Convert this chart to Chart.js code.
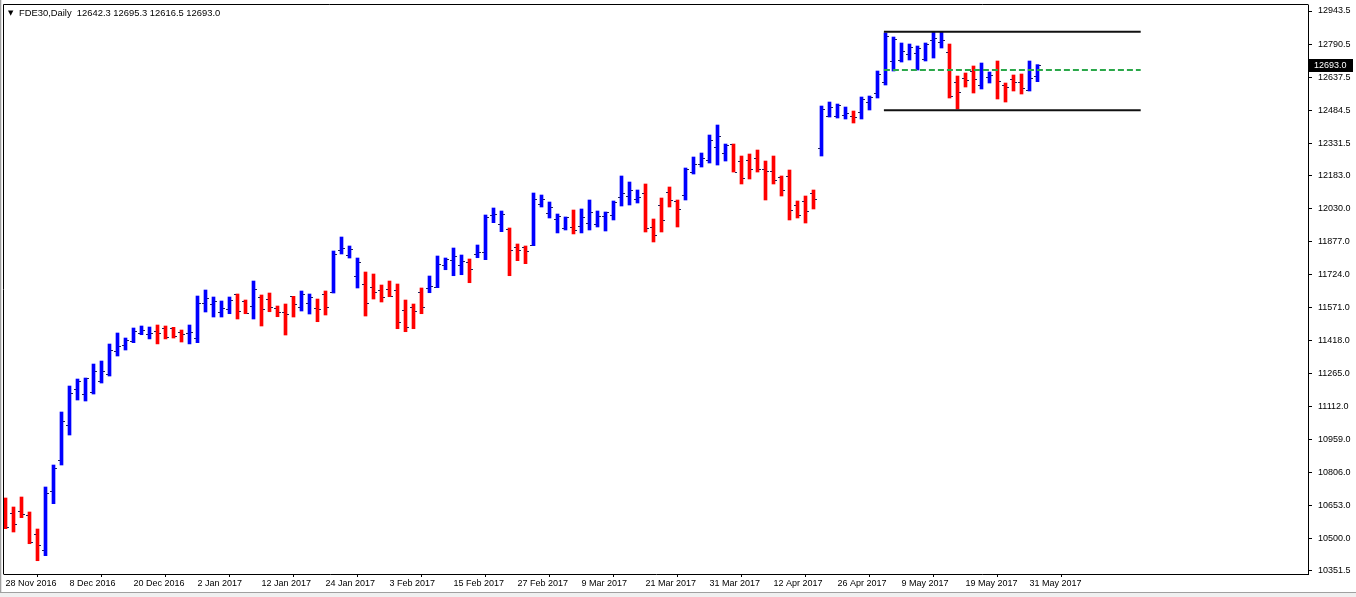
<!DOCTYPE html>
<html>
<head>
<meta charset="utf-8">
<script src="https://cdn.jsdelivr.net/npm/chart.js@4.4.0/dist/chart.umd.min.js"></script>
<style>
html,body{margin:0;padding:0;background:#fff;}
#wrap{position:relative;width:1356px;height:597px;overflow:hidden;}
canvas{display:block;}
#hdr{position:absolute;left:8px;top:7px;font-family:"Liberation Sans",Arial,sans-serif;font-size:9.4px;line-height:12px;white-space:pre;color:#000;}
#hdr .tri{display:inline-block;width:11px;font-family:"DejaVu Sans",sans-serif;font-size:7px;vertical-align:top;line-height:12px;}
</style>
</head>
<body>
<div id="wrap">
<canvas id="c" width="1356" height="597"></canvas>
<div id="hdr"></div>
</div>
<script>
// ---- data (daily OHLC, FDE30) ----
const symbol = 'FDE30,Daily';
const dateLabels = ['28 Nov 2016','8 Dec 2016','20 Dec 2016','2 Jan 2017','12 Jan 2017','24 Jan 2017','3 Feb 2017','15 Feb 2017','27 Feb 2017','9 Mar 2017','21 Mar 2017','31 Mar 2017','12 Apr 2017','26 Apr 2017','9 May 2017','19 May 2017','31 May 2017'];
const labelEvery = 8;

const opens = [10680.1,10619.9,10629.2,10610.7,10522.7,10447.3,10720.4,10863.8,11025.8,11192.4,
11170.7,11178.6,11232.3,11261.9,11369.7,11396.1,11416.0,11451.7,11448.4,11462.3,
11476.2,11474.8,11457.7,11451.7,11428.5,11590.5,11585.9,11548.9,11562.8,11632.2,
11602.6,11578.0,11619.7,11609.0,11567.4,11548.9,11622.9,11572.0,11590.5,11567.4,
11632.2,11644.2,11835.9,11812.7,11715.5,11678.5,11664.6,11650.7,11655.3,11650.7,
11559.5,11572.0,11641.5,11662.8,11664.6,11766.5,11789.6,11766.5,11781.7,11818.8,
11826.7,11997.0,11956.2,11934.5,11849.8,11849.8,11861.8,12048.8,12008.5,11980.8,
11937.7,11943.8,11947.0,11960.8,11956.2,11993.3,11998.0,12081.2,12085.8,12073.3,
12099.7,11943.8,12044.2,12104.3,12062.7,12090.5,12196.9,12233.9,12252.4,12312.6,
12284.8,12326.1,12247.7,12252.4,12261.7,12210.8,12201.5,12173.7,12179.8,12044.2,
12062.7,12099.7,12308.1,12457.5,12457.5,12462.1,12457.5,12476.0,12522.2,12563.9,
12613.5,12710.7,12715.3,12744.5,12747.7,12719.9,12809.3,12800.0,12753.7,12614.9,
12633.4,12665.8,12601.0,12638.0,12670.4,12601.0,12628.8,12614.9,12577.8,12642.3];
const highs = [10689.4,10647.7,10694.0,10624.6,10545.9,10740.3,10842.1,11087.4,11207.7,11240.1,
11244.7,11309.5,11323.4,11402.1,11453.1,11429.9,11476.2,11485.5,11480.8,11490.1,
11485.5,11479.4,11466.9,11490.1,11624.3,11652.1,11619.7,11601.2,11619.7,11633.6,
11605.8,11693.7,11629.0,11638.2,11578.0,11587.3,11622.9,11647.5,11633.6,11610.4,
11647.5,11832.6,11897.4,11855.8,11800.2,11735.4,11726.2,11675.2,11693.7,11679.9,
11605.8,11587.3,11661.4,11716.9,11809.5,11800.2,11846.5,11814.1,11795.6,11860.4,
11999.3,12031.7,12017.8,11939.1,11865.1,11855.8,12101.1,12091.8,12059.4,12003.9,
11990.1,12022.4,12027.1,12068.7,12017.8,12013.2,12064.1,12179.8,12152.0,12115.0,
12142.8,11980.8,12077.9,12128.9,12068.7,12216.8,12267.7,12286.2,12369.5,12415.8,
12327.8,12327.8,12272.3,12281.6,12300.1,12249.1,12272.3,12179.8,12207.5,12064.1,
12087.2,12115.0,12503.7,12522.2,12512.9,12499.1,12480.6,12545.4,12550.0,12665.8,
12841.7,12823.1,12795.4,12790.7,12781.5,12795.4,12846.3,12846.3,12790.7,12642.6,
12656.5,12689.0,12702.8,12661.1,12712.1,12610.2,12647.3,12651.9,12712.1,12695.3];
const lows = [10547.3,10532.0,10598.2,10477.8,10399.1,10422.3,10663.0,10842.1,10980.9,11142.9,
11138.3,11170.7,11221.6,11254.0,11346.6,11374.4,11408.2,11445.2,11425.7,11402.6,
11425.7,11429.9,11411.4,11402.6,11408.2,11550.3,11527.1,11527.1,11542.4,11517.9,
11542.4,11517.9,11485.5,11551.6,11528.5,11443.8,11527.1,11554.9,11541.0,11505.4,
11536.4,11638.2,11818.8,11800.2,11661.4,11531.7,11610.4,11596.6,11621.1,11473.0,
11459.1,11473.0,11542.4,11639.6,11662.8,11746.0,11718.3,11722.9,11685.9,11801.6,
11792.4,11963.7,11922.0,11718.3,11787.8,11773.9,11857.2,12036.3,11985.4,11916.2,
11929.9,11911.6,11916.2,11929.9,11943.8,11925.2,11976.2,12040.9,12045.6,12054.8,
11920.6,11874.4,11920.6,12036.3,11943.8,12068.7,12189.0,12221.4,12239.9,12230.6,
12249.1,12198.2,12142.8,12165.9,12198.2,12068.7,12142.8,12087.2,11976.2,11985.4,
11962.2,12027.1,12272.3,12452.8,12448.2,12443.6,12425.1,12443.6,12485.3,12540.8,
12601.0,12665.8,12707.4,12716.7,12670.4,12712.1,12725.9,12772.2,12540.8,12489.9,
12591.7,12563.9,12582.5,12610.2,12536.2,12522.2,12573.2,12559.3,12573.2,12616.5];
const closes = [10555.1,10569.0,10615.3,10485.7,10471.8,10711.1,10826.8,11044.3,11173.9,11229.5,
11243.4,11275.3,11275.3,11373.0,11392.9,11419.3,11460.9,11466.9,11453.1,11453.1,
11434.5,11440.6,11448.4,11457.7,11590.5,11613.7,11599.8,11570.2,11604.4,11553.5,
11545.6,11655.3,11562.8,11572.0,11551.6,11539.6,11585.9,11632.2,11618.4,11562.8,
11572.0,11817.4,11845.1,11840.5,11780.3,11590.5,11641.5,11618.4,11622.9,11505.4,
11479.4,11553.5,11572.0,11672.0,11771.1,11794.2,11808.1,11785.0,11747.9,11828.1,
11990.1,12006.2,12002.5,11835.9,11835.9,11831.3,12072.0,12072.0,12036.3,11993.3,
11988.7,11928.5,11988.7,12011.8,11993.3,12011.8,12058.1,12099.7,12113.6,12082.6,
11937.7,11905.6,11974.8,12067.3,12025.7,12210.8,12233.9,12263.1,12346.4,12364.9,
12321.8,12199.7,12169.1,12210.8,12210.8,12201.5,12159.9,12113.6,12021.0,11998.0,
12016.4,12072.0,12489.9,12499.1,12508.3,12471.4,12452.8,12536.2,12545.4,12651.9,
12827.8,12813.9,12758.3,12776.9,12772.2,12790.7,12817.1,12809.3,12550.0,12568.6,
12624.1,12628.8,12670.4,12647.3,12619.5,12591.7,12614.9,12587.1,12633.4,12693.0];

// drawn objects: two horizontal trend lines and a dashed mid line (bar-index anchors)
const levelAnchors = [109.8, 141.9];
const levelHigh = 12847.7;
const levelLow = 12483.9;
const levelMid = 12670.4;

// price-axis tick labels
const priceTicks = [12943.5,12790.5,12637.5,12484.5,12331.5,12183.0,12030.0,11877.0,11724.0,11571.0,11418.0,11265.0,11112.0,10959.0,10806.0,10653.0,10500.0,10351.5];
const priceMin = 10337.6, priceMax = 12971.3;

// ---- style ----
const upColor = '#0000ff', downColor = '#ff0000', tickColor = '#20205a';
const FONT = '"Liberation Sans", Arial, sans-serif';

const last = closes.length - 1;
document.getElementById('hdr').innerHTML =
  '<span class="tri">\u25BC</span>' + symbol + '  ' +
  [opens[last], highs[last], lows[last], closes[last]].map(v => v.toFixed(1)).join(' ');

const barColors = closes.map((c, i) => c >= opens[i] ? upColor : downColor);

const ohlcTicks = {
  id: 'ohlcTicks',
  afterDatasetDraw(chart, args) {
    if (args.index !== 0) return;
    const {ctx, chartArea: a, scales: {x, y}} = chart;
    ctx.save();
    ctx.beginPath(); ctx.rect(a.left, a.top, a.right - a.left, a.bottom - a.top); ctx.clip();
    for (let i = 0; i < opens.length; i++) {
      const px = Math.round(x.getPixelForValue(i) - 1.5);
      const yo = Math.round(y.getPixelForValue(opens[i]));
      const yc = Math.round(y.getPixelForValue(closes[i]));
      ctx.fillStyle = tickColor;
      ctx.fillRect(px - 2, yo, 2, 1);
      ctx.fillRect(px + 3, yc, 2, 1);
    }
    ctx.restore();
  }
};

const frame = {
  id: 'frame',
  beforeDraw(chart) {
    const {ctx, width, height} = chart;
    ctx.save();
    ctx.fillStyle = '#ffffff'; ctx.fillRect(0, 0, width, height);
    ctx.fillStyle = '#a0a0a0'; ctx.fillRect(0, 0, 1, height);
    ctx.fillStyle = '#e3e3e3'; ctx.fillRect(1, 0, 1, height);
    ctx.fillStyle = '#f0f0f0'; ctx.fillRect(0, 592, width, height - 592);
    ctx.fillStyle = '#a0a0a0'; ctx.fillRect(0, 592, width, 1);
    ctx.restore();
  },
  afterDraw(chart) {
    const {ctx, chartArea: a, scales: {y}} = chart;
    ctx.save();
    ctx.strokeStyle = '#000'; ctx.lineWidth = 1;
    ctx.beginPath();
    ctx.moveTo(a.left - 0.5, a.bottom + 0.5);
    ctx.lineTo(a.left - 0.5, a.top - 0.5);
    ctx.lineTo(a.right + 0.5, a.top - 0.5);
    ctx.stroke();
    // current price marker
    const py = Math.round(y.getPixelForValue(closes[last]));
    ctx.fillStyle = '#000';
    ctx.fillRect(a.right + 1, py - 6, 44, 13);
    ctx.fillStyle = '#fff';
    ctx.font = '9px ' + FONT;
    ctx.textBaseline = 'middle';
    ctx.textAlign = 'left';
    ctx.fillText(closes[last].toFixed(1), a.right + 6, py + 0.5);
    ctx.restore();
  }
};

const lineDs = (val, color, width, dash) => ({
  type: 'line',
  data: levelAnchors.map(x => ({x, y: val})),
  borderColor: color, borderWidth: width, borderDash: dash,
  pointRadius: 0, fill: false, order: 0, tension: 0
});

new Chart(document.getElementById('c'), {
  type: 'bar',
  data: {
    datasets: [
      {
        type: 'bar',
        data: highs.map((h, i) => ({x: i, y: [lows[i], h]})),
        backgroundColor: barColors,
        borderWidth: 0,
        barThickness: 3,
        order: 1
      },
      lineDs(levelHigh, '#111', 2, []),
      lineDs(levelLow, '#111', 2, []),
      lineDs(levelMid, '#2ba84a', 2, [6, 3])
    ]
  },
  plugins: [ohlcTicks, frame],
  options: {
    responsive: false,
    devicePixelRatio: 1,
    animation: false,
    events: [],
    layout: {padding: {left: 4, top: 5, right: 0, bottom: 0}},
    plugins: {legend: {display: false}, tooltip: {enabled: false}, title: {display: false}},
    scales: {
      x: {
        type: 'linear',
        min: -0.1875,
        max: 162.8125,
        offset: false,
        grid: {display: true, drawOnChartArea: false, drawTicks: true, tickLength: 3, color: '#000'},
        border: {display: true, color: '#000', width: 1},
        ticks: {
          align: 'start', maxRotation: 0, autoSkip: false, padding: 1,
          color: '#000', font: {family: FONT, size: 9},
          callback: (v, i) => dateLabels[i]
        },
        afterBuildTicks: s => { s.ticks = dateLabels.map((_, k) => ({value: k * labelEvery})); },
        afterFit: s => { s.height = 23; s.paddingLeft = 0; s.paddingRight = 0; }
      },
      y: {
        type: 'linear',
        position: 'right',
        min: priceMin,
        max: priceMax,
        grid: {display: true, drawOnChartArea: false, drawTicks: true, tickLength: 4, color: '#000'},
        border: {display: true, color: '#000', width: 1},
        ticks: {
          padding: 6, color: '#000', font: {family: FONT, size: 9},
          callback: v => Number(v).toFixed(1)
        },
        afterBuildTicks: s => { s.ticks = priceTicks.map(v => ({value: v})); },
        afterFit: s => { s.width = 48; s.paddingTop = 0; s.paddingBottom = 0; }
      }
    }
  }
});
</script>
</body>
</html>
